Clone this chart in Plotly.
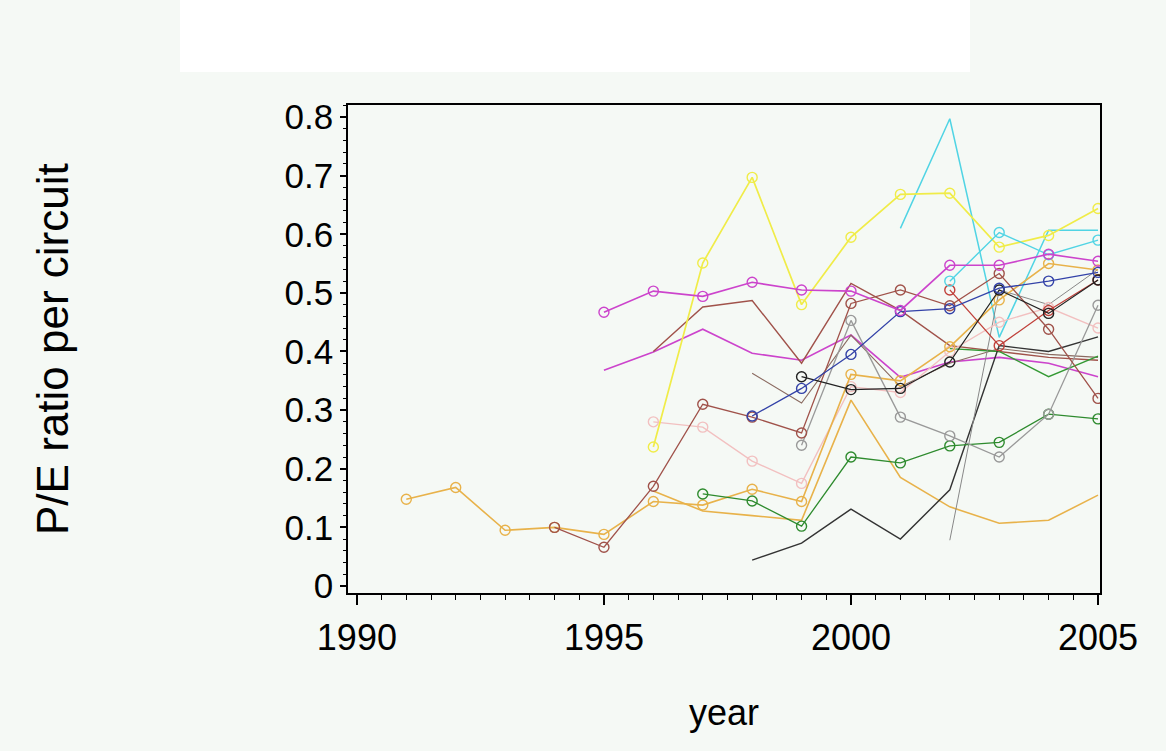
import plotly.graph_objects as go

N = None
years = list(range(1991, 2006))

# P/E ratio per circuit, one list per circuit (1991..2005)
pe_orange_a = [.148, .168, .095, .100, .088, .144, .138, .165, .144, .361, .350, .408, .488, .550, .539]
pe_orange_b = [N, N, N, N, N, .162, .128, .120, .112, .317, .185, .135, .107, .112, .155]
pe_yellow = [N, N, N, N, N, .237, .551, .697, .480, .595, .668, .670, .578, .598, .644]
pe_magenta_a = [N, N, N, N, .467, .503, .494, .518, .505, .503, .470, .547, .547, .566, .554]
pe_magenta_b = [N, N, N, N, .368, .399, .438, .397, .385, .428, .356, .382, .390, .380, .357]
pe_brown_a = [N, N, N, .100, .066, .170, .310, .288, .261, .482, .505, .478, .533, .438, .320]
pe_brown_b = [N, N, N, N, N, .400, .476, .487, .380, .516, .470, .410, .400, .390, .385]
pe_brown_c = [N, N, N, N, N, N, N, .363, .312, .428, .340, .380, .405, .395, .390]
pe_red = [N, N, N, N, N, N, N, N, N, N, N, .505, .410, .470, .522]
pe_blue = [N, N, N, N, N, N, N, .290, .337, .395, .468, .473, .508, .520, .535]
pe_black = [N, N, N, N, N, N, N, N, .357, .335, .337, .382, .505, .465, .522]
pe_gray_a = [N, N, N, N, N, N, N, N, .240, .453, .288, .256, .220, .293, .479]
pe_gray_b = [N, N, N, N, N, N, N, N, N, N, N, .078, .505, .480, .540]
pe_green_a = [N, N, N, N, N, N, .157, .145, .102, .220, .210, .239, .245, .293, .285]
pe_green_b = [N, N, N, N, N, N, N, N, N, N, N, .405, .400, .357, .392]
pe_pink = [N, N, N, N, N, .280, .271, .213, .175, .340, .330, .400, .450, .475, .440]
pe_cyan_a = [N, N, N, N, N, N, N, N, N, N, .610, .797, .424, .607, .607]
pe_cyan_b = [N, N, N, N, N, N, N, N, N, N, N, .520, .603, .565, .590]
pe_dark = [N, N, N, N, N, N, N, .044, .073, .131, .080, .164, .410, .400, .425]

x_tick_vals = [1990, 1995, 2000, 2005]
x_title = "year"
y_title = "P/E ratio per circuit"

# styles: (values, color, marked, width)
traces = [
    (pe_orange_b, "#e8b24a", False, 1.6),
    (pe_magenta_b, "#cc44cc", False, 1.6),
    (pe_brown_b, "#a0524a", False, 1.4),
    (pe_brown_c, "#8a6a60", False, 1.1),
    (pe_green_b, "#339933", False, 1.3),
    (pe_cyan_a, "#50d4e4", False, 1.5),
    (pe_dark, "#333333", False, 1.4),
    (pe_gray_b, "#888888", False, 1.0),
    (pe_pink, "#f2c0c0", True, 1.4),
    (pe_orange_a, "#e8b24a", True, 1.6),
    (pe_yellow, "#f0ec48", True, 1.7),
    (pe_green_a, "#2e8b2e", True, 1.3),
    (pe_gray_a, "#999999", True, 1.3),
    (pe_brown_a, "#a0524a", True, 1.3),
    (pe_red, "#c0403a", True, 1.3),
    (pe_black, "#222222", True, 1.2),
    (pe_blue, "#3342a8", True, 1.3),
    (pe_cyan_b, "#50d4e4", True, 1.4),
    (pe_magenta_a, "#cc44cc", True, 1.6),
]

fig = go.Figure()
for vals, color, marked, width in traces:
    fig.add_trace(go.Scatter(
        x=years, y=vals,
        mode="lines+markers" if marked else "lines",
        line=dict(color=color, width=width),
        marker=dict(symbol="circle-open", size=10, color=color, line=dict(width=1.4, color=color)),
        connectgaps=False, hoverinfo="skip",
    ))

bg = "#f5f9f5"
font_family = "Liberation Sans, Arial, sans-serif"

fig.update_layout(
    width=1166, height=751,
    margin=dict(l=348, r=66, t=105, b=158),
    paper_bgcolor=bg, plot_bgcolor=bg,
    showlegend=False,
    font=dict(family=font_family, color="black"),
    xaxis=dict(
        range=[1989.82, 2005.04], tickmode="array", tickvals=x_tick_vals,
        ticks="outside", ticklen=10, tickwidth=1.5, tickcolor="black",
        showline=True, linecolor="black", linewidth=1.5, mirror=True,
        showgrid=False, zeroline=False,
        tickfont=dict(size=36, family=font_family), ticklabelstandoff=2,
        minor=dict(tick0=1990, dtick=0.5, ticks="outside", ticklen=5, tickwidth=1, tickcolor="black", showgrid=False),
    ),
    yaxis=dict(
        range=[-0.012, 0.8205], tick0=0, dtick=0.1,
        ticks="outside", ticklen=6, tickwidth=1.5, tickcolor="black",
        showline=True, linecolor="black", linewidth=1.5, mirror=True,
        showgrid=False, zeroline=False,
        tickfont=dict(size=35, family=font_family),
        minor=dict(tick0=0, dtick=0.02, ticks="outside", ticklen=3, tickwidth=1, tickcolor="black", showgrid=False),
    ),
    shapes=[dict(type="rect", xref="paper", yref="paper", x0=-0.2234, x1=0.8271, y0=1.0676, y1=1.22,
                 line=dict(width=0), fillcolor="white")],
    annotations=[
        dict(text=x_title, xref="paper", yref="paper", x=0.5, y=-0.2439, xanchor="center", yanchor="middle",
             showarrow=False, font=dict(size=36, family=font_family)),
        dict(text=y_title, xref="paper", yref="paper", x=-0.3936, y=0.5, xanchor="center", yanchor="middle",
             textangle=-90, showarrow=False, font=dict(size=44, family=font_family)),
    ],
)

fig.write_html("out.html", config={"displayModeBar": False},
               post_script="document.body.style.margin='0';document.body.style.background='%s';" % bg)
